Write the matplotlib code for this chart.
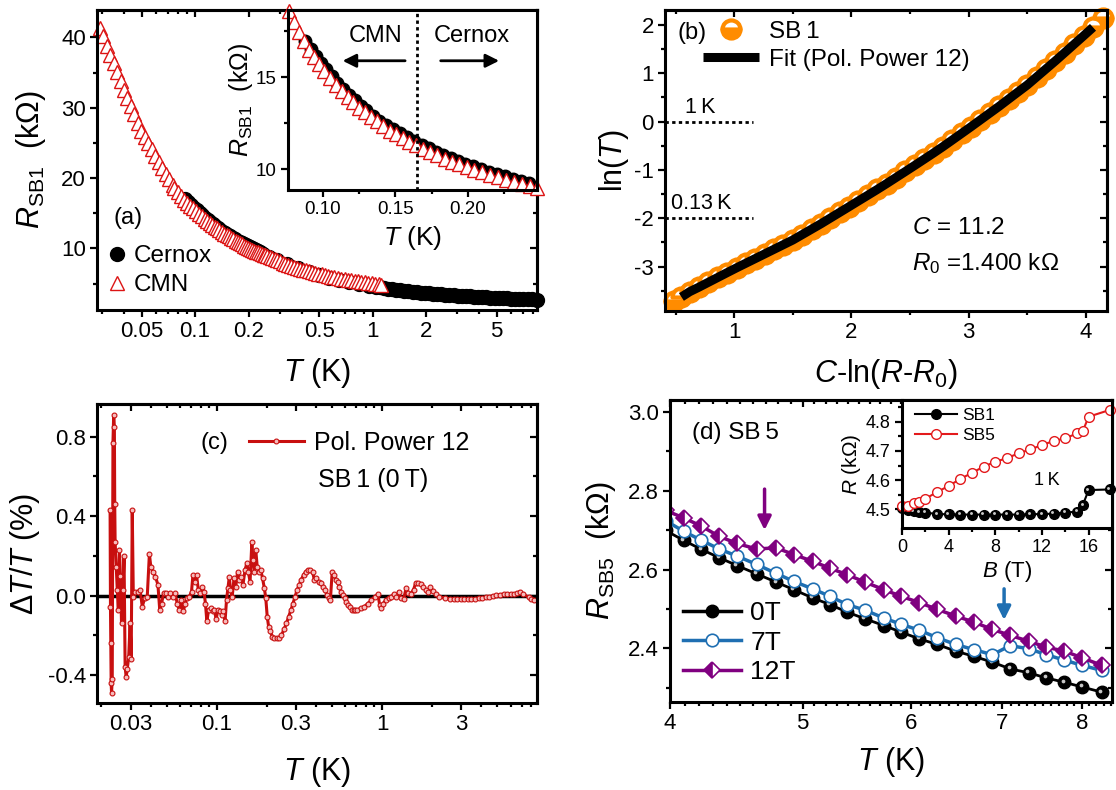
import numpy as np
import matplotlib
matplotlib.use("Agg")
import matplotlib.pyplot as plt
from matplotlib.ticker import NullFormatter
from matplotlib.transforms import ScaledTranslation

plt.rcParams['font.family'] = ['Liberation Sans', 'DejaVu Sans']
plt.rcParams['mathtext.fontset'] = 'custom'
plt.rcParams['mathtext.rm'] = 'Liberation Sans'
plt.rcParams['mathtext.it'] = 'Liberation Sans:italic'
plt.rcParams['mathtext.bf'] = 'Liberation Sans:bold'
plt.rcParams['axes.unicode_minus'] = False

# (a) R_SB1 against T, CMN and Cernox thermometers
cmn_T = [0.029, 0.0303, 0.0317, 0.0332, 0.0347, 0.0363, 0.038, 0.0398, 0.0416, 0.0435,
         0.0455, 0.0476, 0.0498, 0.0521, 0.0545, 0.057, 0.0597, 0.0624, 0.0653, 0.0683,
         0.0715, 0.0748,
         0.0765, 0.080, 0.0835, 0.087, 0.0905, 0.094, 0.0975, 0.101, 0.105, 0.109,
         0.113, 0.117, 0.121, 0.125, 0.129, 0.133, 0.137, 0.1415, 0.146, 0.1505,
         0.155, 0.1595, 0.164, 0.169, 0.174, 0.179, 0.184, 0.189, 0.194, 0.199,
         0.2045, 0.21, 0.2155, 0.221, 0.2265, 0.232, 0.2375, 0.243, 0.2476,
         0.255, 0.263, 0.272, 0.281, 0.291, 0.301, 0.312, 0.323, 0.335, 0.348,
         0.361, 0.375, 0.39, 0.405, 0.421, 0.438, 0.456, 0.475, 0.495, 0.516,
         0.538, 0.561, 0.585, 0.61, 0.637, 0.665, 0.695, 0.726, 0.758, 0.792,
         0.828, 0.866, 0.906, 0.948, 0.992, 1.038, 1.086, 1.11]
cmn_R = [41.4, 40.14, 38.84, 37.52, 36.31, 35.09, 33.85, 32.6, 31.43, 30.26,
         29.08, 27.89, 26.71, 25.81, 24.94, 24.07, 23.17, 22.32, 21.44, 20.63,
         19.85, 19.09,
         18.6, 18.0, 17.45, 16.95, 16.5, 16.1, 15.7, 15.35, 14.95, 14.6,
         14.25, 13.95, 13.65, 13.35, 13.1, 12.85, 12.6, 12.35, 12.1, 11.9,
         11.7, 11.5, 11.3, 11.1, 10.92, 10.75, 10.58, 10.42, 10.27, 10.12,
         9.97, 9.83, 9.69, 9.56, 9.43, 9.31, 9.2, 9.09, 9.0,
         8.9, 8.75, 8.6, 8.45, 8.3, 8.15, 8.0, 7.85, 7.7, 7.55,
         7.4, 7.27, 7.13, 7.0, 6.88, 6.76, 6.64, 6.52, 6.41, 6.3,
         6.2, 6.1, 6.0, 5.9, 5.81, 5.72, 5.63, 5.55, 5.47, 5.39,
         5.31, 5.23, 5.16, 5.09, 5.02, 4.96, 4.9, 4.87]
cernox_T = [0.088, 0.0915, 0.095, 0.0985, 0.102, 0.106, 0.110, 0.114, 0.118, 0.122,
            0.126, 0.130, 0.1345, 0.139, 0.1435, 0.148, 0.153, 0.158, 0.163, 0.168,
            0.173, 0.178, 0.183, 0.188, 0.193, 0.198, 0.2035, 0.209, 0.2145, 0.22,
            0.2255, 0.231, 0.2365, 0.242,
            0.26, 0.29, 0.33, 0.38, 0.44, 0.5, 0.57, 0.65, 0.74, 0.84, 0.95, 1.05,
            1.1, 1.16, 1.22, 1.29, 1.36, 1.43, 1.51, 1.59, 1.68, 1.77,
            1.87, 1.97, 2.08, 2.19, 2.31, 2.44, 2.57, 2.71, 2.86, 3.02,
            3.18, 3.36, 3.54, 3.73, 3.94, 4.15, 4.38, 4.62, 4.87, 5.14,
            5.42, 5.72, 6.03, 6.36, 6.71, 7.08, 7.47, 7.88, 8.4]
cernox_R = [17.0, 16.55, 16.15, 15.8, 15.45, 15.05, 14.7, 14.35, 14.05, 13.75,
            13.45, 13.2, 12.92, 12.65, 12.4, 12.17, 11.95, 11.73, 11.52, 11.32,
            11.13, 10.95, 10.78, 10.62, 10.46, 10.31, 10.15, 10.01, 9.87, 9.74,
            9.61, 9.49, 9.38, 9.27,
            8.8, 8.35, 7.8, 7.2, 6.65, 6.25, 5.85, 5.5, 5.2, 4.95, 4.72, 4.55,
            4.45, 4.36, 4.28, 4.2, 4.12, 4.05, 3.98, 3.91, 3.85, 3.79,
            3.73, 3.67, 3.62, 3.57, 3.52, 3.47, 3.42, 3.38, 3.34, 3.3,
            3.26, 3.22, 3.18, 3.15, 3.11, 3.08, 3.05, 3.02, 2.99, 2.96,
            2.93, 2.9, 2.87, 2.85, 2.82, 2.8, 2.78, 2.76, 2.74]
switch_T = 0.165

# (b) ln(T) against C-ln(R-R0)
b_x = [0.49, 0.55, 0.62, 0.7, 0.78, 0.86, 0.94, 1.02, 1.1, 1.18,
       1.26, 1.34, 1.42, 1.5, 1.58, 1.66, 1.74, 1.82, 1.9, 1.98,
       2.06, 2.14, 2.22, 2.3, 2.38, 2.46, 2.54, 2.62, 2.7, 2.78,
       2.86, 2.94, 3.02, 3.1, 3.18, 3.26, 3.34, 3.42, 3.5, 3.58,
       3.66, 3.74, 3.82, 3.9, 3.98, 4.06, 4.145]
b_y = [-3.72, -3.63, -3.52, -3.425, -3.325, -3.225, -3.125, -3.026, -2.93, -2.834,
       -2.738, -2.642, -2.546, -2.45, -2.338, -2.226, -2.114, -1.996, -1.878, -1.76,
       -1.641, -1.523, -1.404, -1.282, -1.157, -1.032, -0.906, -0.778, -0.65, -0.518,
       -0.381, -0.243, -0.105, 0.036, 0.177, 0.318, 0.466, 0.613, 0.76, 0.926,
       1.093, 1.259, 1.431, 1.604, 1.777, 1.952, 2.14]
ref_lnT = [0, -2]
ref_names = ['1\u2009K', '0.13\u2009K']
ref_end = 1.16

# (c) deviation of the fit
c_T = [0.02257, 0.02269, 0.0228, 0.02291, 0.02303, 0.02326, 0.02349, 0.02373, 0.02396, 0.02408,
       0.02421, 0.02457, 0.02494, 0.02532, 0.0257, 0.02608, 0.02647, 0.02701, 0.02742, 0.02783,
       0.02825, 0.02867, 0.02925, 0.02984, 0.03029, 0.03074, 0.0312, 0.03199, 0.03312, 0.03429,
       0.03534, 0.03659, 0.03789, 0.03904, 0.03982, 0.04103, 0.04248, 0.04398, 0.04509, 0.04623,
       0.04763, 0.04932, 0.05056, 0.05236, 0.05395, 0.05585, 0.05755, 0.05929, 0.06078, 0.06263,
       0.06421, 0.06583, 0.06816, 0.07023, 0.07165, 0.07345, 0.0753, 0.0772, 0.07914, 0.08155,
       0.0836, 0.08528, 0.087, 0.08919, 0.0919, 0.09467, 0.09658, 0.09901, 0.1015, 0.1041,
       0.1067, 0.1094, 0.1121, 0.1144, 0.1167, 0.119, 0.1208, 0.1239, 0.127, 0.1302,
       0.1335, 0.1368, 0.1403, 0.1438, 0.1482, 0.1519, 0.155, 0.1589, 0.1629, 0.1653,
       0.1687, 0.172, 0.1755, 0.1799, 0.1845, 0.1891, 0.1939, 0.1978, 0.2018, 0.2058,
       0.211, 0.2163, 0.2228, 0.2308, 0.239, 0.2462, 0.255, 0.2639, 0.272, 0.2816,
       0.2887, 0.2974, 0.3064, 0.3157, 0.3237, 0.3352, 0.3454, 0.3558, 0.3666, 0.3796,
       0.3891, 0.4009, 0.4131, 0.4257, 0.4385, 0.4519, 0.4633, 0.475, 0.4869, 0.4992,
       0.5117, 0.5246, 0.5378, 0.5514, 0.5653, 0.5796, 0.5942, 0.6091, 0.6245, 0.6402,
       0.6563, 0.6729, 0.6898, 0.7072, 0.7432, 0.7813, 0.821, 0.863, 0.907, 0.944,
       0.968, 0.992, 1.017, 1.053, 1.096, 1.14, 1.181, 1.222, 1.26, 1.298,
       1.351, 1.399, 1.441, 1.492, 1.553, 1.6, 1.649, 1.716, 1.776, 1.839,
       1.895, 1.962, 2.032, 2.114, 2.222, 2.394, 2.579, 2.712, 2.85, 2.996,
       3.148, 3.309, 3.478, 3.655, 3.842, 4.037, 4.244, 4.461, 4.688, 4.927,
       5.178, 5.443, 5.721, 6.013, 6.32, 6.543, 6.809, 7.155, 7.714, 8.024, 8.31]
c_dev = [0.43, -0.055, -0.24, -0.44, -0.49, -0.42, 0.77, 0.91, 0.85, 0.46,
         0.27, 0.146, 0.03, -0.07, 0.23, 0.10, -0.14, 0.03, 0.20, -0.36,
         -0.41, -0.37, -0.31, -0.14, -0.32, 0.43, -0.005, 0.02, 0.02, 0.03,
         -0.055, -0.013, -0.005, 0.21, 0.146, 0.12, 0.096, 0.054, -0.072, -0.04,
         0.012, 0.015, -0.005, 0.015, -0.005, 0.012, -0.04, -0.072, -0.022, -0.08,
         -0.04, -0.013, -0.005, 0.02, 0.104, 0.07, 0.104, 0.03, 0.012, 0.045,
         0.02, -0.04, -0.13, -0.07, -0.064, -0.08, -0.07, -0.12, -0.07, -0.08,
         -0.097, -0.08, -0.13, -0.022, 0.037, 0.096, 0.03, -0.005, 0.087, 0.045,
         0.12, 0.079, 0.096, 0.054, 0.13, 0.163, 0.12, 0.07, 0.27, 0.18,
         0.12, 0.23, 0.146, 0.12, 0.13, 0.087, 0.037, -0.013, -0.106, -0.156,
         -0.18, -0.206, -0.215, -0.215, -0.215, -0.2, -0.17, -0.14, -0.106, -0.07,
         -0.04, -0.005, 0.03, 0.054, 0.08, 0.104, 0.12, 0.13, 0.13, 0.12,
         0.08, 0.087, 0.07, 0.062, 0.045, 0.03, 0.003, -0.013, -0.022, 0.12,
         0.104, 0.08, 0.07, 0.045, 0.02, 0.003, -0.013, -0.03, -0.047, -0.055,
         -0.072, -0.075, -0.072, -0.072, -0.064, -0.055, -0.04, -0.022, -0.005, 0.008,
         -0.047, -0.064, -0.04, -0.022, -0.013, -0.005, 0.008, -0.005, 0.02, -0.013,
         -0.018, 0.037, 0.012, 0.008, 0.03, 0.065, 0.065, 0.059, 0.045, 0.03,
         0.02, 0.042, 0.025, 0.008, -0.005, -0.013, -0.017, -0.017, -0.017, -0.017,
         -0.017, -0.017, -0.017, -0.015, -0.013, -0.01, -0.008, -0.005, -0.002, 0.002,
         0.005, 0.007, 0.008, 0.008, 0.008, 0.012, 0.02, 0.008, -0.008, -0.015, -0.022]

# (d) R_SB5 against T in fields of 0, 7 and 12 T
d_T = [3.97, 4.092, 4.217, 4.345, 4.478, 4.627, 4.783, 4.926, 5.085, 5.237, 5.39, 5.554, 5.733,
       5.904, 6.087, 6.272, 6.471, 6.668, 6.883, 7.093, 7.317, 7.539, 7.77, 8.006, 8.274]
d_R0 = [2.699, 2.674, 2.651, 2.630, 2.610, 2.589, 2.568, 2.549, 2.528, 2.511, 2.492, 2.475, 2.458,
        2.441, 2.424, 2.410, 2.393, 2.380, 2.365, 2.348, 2.338, 2.325, 2.314, 2.302, 2.289]
d_R7 = [2.724, 2.697, 2.674, 2.652, 2.634, 2.613, 2.590, 2.570, 2.551, 2.532, 2.511, 2.497, 2.477,
        2.461, 2.446, 2.427, 2.410, 2.397, 2.384, 2.407, 2.399, 2.384, 2.370, 2.357, 2.344]
d_R12 = [2.750, 2.731, 2.710, 2.684, 2.666, 2.652, 2.655, 2.638, 2.621, 2.603, 2.587, 2.568, 2.549,
         2.532, 2.516, 2.499, 2.482, 2.467, 2.448, 2.433, 2.418, 2.403, 2.393, 2.376, 2.357]
arrow_T = [4.69, 7.02]
arrow_top = [2.811, 2.558]
arrow_tip = [2.693, 2.465]

# (d) inset: R against B at 1 K
ins_B = [0, 0.5, 1, 1.5, 2, 3, 4, 5, 6, 7, 8, 9, 10, 11, 12, 13, 14, 15, 15.5, 16, 17.8]
ins_SB1 = [4.503, 4.497, 4.494, 4.490, 4.489, 4.484, 4.483, 4.482, 4.482, 4.482, 4.482,
           4.482, 4.482, 4.483, 4.484, 4.485, 4.489, 4.492, 4.515, 4.566, 4.568]
ins_SB5 = [4.511, 4.513, 4.520, 4.526, 4.536, 4.559, 4.580, 4.604, 4.625, 4.646, 4.663,
           4.675, 4.692, 4.705, 4.720, 4.734, 4.743, 4.760, 4.768, 4.817, 4.840]

red = '#dc1414'
orange = '#ff8c00'
dred = '#c80f0f'
blue = '#1f6fb2'
purple = '#800080'

fig = plt.figure(figsize=(11.16, 7.9), dpi=100)


def minors(lo, hi, majors):
    out = []
    for d in range(-2, 1):
        for k in range(2, 10):
            v = k * 10.0 ** d
            if lo <= v <= hi and not np.any(np.isclose(v, majors)):
                out.append(v)
    return out


def frame(ax, xt, xl, xm, yt, yl, ym, xlim, ylim, size=16, box=True):
    for s in ax.spines.values():
        s.set_linewidth(2.2)
    ax.set_xticks(xt, xl)
    ax.set_xticks(xm, minor=True)
    ax.set_yticks(yt, yl)
    ax.set_yticks(ym, minor=True)
    ax.xaxis.set_minor_formatter(NullFormatter())
    ax.yaxis.set_minor_formatter(NullFormatter())
    ax.tick_params(which='both', direction='out', width=1.6, labelsize=size, pad=3)
    ax.tick_params(which='major', length=5)
    ax.tick_params(which='minor', length=3)
    if box:
        top = ax.secondary_xaxis('top')
        top.set_xticks(xt, [''] * len(xt))
        top.set_xticks(xm, minor=True)
        top.xaxis.set_minor_formatter(NullFormatter())
        top.tick_params(which='both', direction='in', width=1.6)
        top.tick_params(which='major', length=5)
        top.tick_params(which='minor', length=3)
        top.spines['top'].set_linewidth(2.2)
        right = ax.secondary_yaxis('right')
        right.set_yticks(yt, [''] * len(yt))
        right.set_yticks(ym, minor=True)
        right.yaxis.set_minor_formatter(NullFormatter())
        right.tick_params(which='both', direction='in', width=1.6)
        right.tick_params(which='major', length=5)
        right.tick_params(which='minor', length=3)
        right.spines['right'].set_linewidth(2.2)
    ax.set_xlim(*xlim)
    ax.set_ylim(*ylim)


def spheres(ax, x, y, ms, **kw):
    ax.plot(x, y, 'o', color='k', ms=ms, ls='none', **kw)
    off = ScaledTranslation(-ms * 0.13 / 72, ms * 0.13 / 72, fig.dpi_scale_trans)
    ax.plot(x, y, 'o', color='#c8c8c8', ms=ms * 0.3, mew=0, ls='none',
            transform=ax.transData + off, **kw)


# ---- (a)
ax = fig.add_axes([0.0869, 0.6076, 0.3943, 0.3797])
ax.set_xscale('log')
h_cx, = ax.plot(cernox_T, cernox_R, 'o', color='k', ms=10, ls='none', clip_on=False)
h_cmn, = ax.plot(cmn_T, cmn_R, '^', mfc='white', mec=red, mew=1, ms=10, ls='none', clip_on=False)
xt = [0.05, 0.1, 0.2, 0.5, 1, 2, 5]
frame(ax, xt, ['0.05', '0.1', '0.2', '0.5', '1', '2', '5'], minors(0.028, 8.45, xt),
      [10, 20, 30, 40], ['10', '20', '30', '40'], [5, 15, 25, 35], (0.028, 8.45), (1.25, 43.9))
ax.set_xlabel('$T$ (K)', fontsize=22, labelpad=10)
ax.set_ylabel(r'$R_{\mathrm{SB1}}$  (kΩ)', fontsize=22, labelpad=9)
ax.text(0.07, 0.307, '(a)', transform=ax.transAxes, fontsize=17, ha='center', va='center')
ax.legend([h_cx, h_cmn], ['Cernox', 'CMN'], loc='lower left', bbox_to_anchor=(0.03, 0.045),
          frameon=False, fontsize=17.5, handlelength=0.6, handletextpad=0.35, labelspacing=0.3,
          borderpad=0, borderaxespad=0, markerscale=1.0)

# ---- (a) inset
ai = fig.add_axes([0.2581, 0.7595, 0.2231, 0.2278])
cx_T = np.array(cernox_T)
cm_T = np.array(cmn_T)
sel_cx = (cx_T >= 0.076) & (cx_T <= 0.2476)
sel_cm = (cm_T >= 0.076) & (cm_T <= 0.2476)
ai.plot(cx_T[sel_cx], np.array(cernox_R)[sel_cx], 'o', color='k', ms=9, ls='none', clip_on=False)
ai.plot(cm_T[sel_cm], np.array(cmn_R)[sel_cm], '^', mfc='white', mec=red, mew=1, ms=10,
        ls='none', clip_on=False)
ai.axvline(switch_T, color='k', ls=(0, (1.2, 1.2)), lw=2)
ai.text(0.136, 17.25, 'CMN', fontsize=17, ha='center', va='center')
ai.text(0.2026, 17.25, 'Cernox', fontsize=17, ha='center', va='center')
ai.annotate('', xy=(0.1117, 15.9), xytext=(0.1586, 15.9),
            arrowprops=dict(arrowstyle='-|>', color='k', lw=2, mutation_scale=20))
ai.annotate('', xy=(0.2234, 15.9), xytext=(0.1793, 15.9),
            arrowprops=dict(arrowstyle='-|>', color='k', lw=2, mutation_scale=20))
frame(ai, [0.10, 0.15, 0.20], ['0.10', '0.15', '0.20'], [0.125, 0.175, 0.225],
      [10, 15], ['10', '15'], [12.5, 17.5], (0.076, 0.2476), (8.87, 18.66), size=13.5, box=False)
ai.set_xlabel('$T$ (K)', fontsize=19, labelpad=4)
ai.set_ylabel(r'$R_{\mathrm{SB1}}$  (kΩ)', fontsize=18, labelpad=1)

# ---- (b)
bx = fig.add_axes([0.5959, 0.6063, 0.3961, 0.3810])
h_sb, = bx.plot(b_x, b_y, 'o', ms=13, mew=3, fillstyle='bottom', mfc=orange,
                mfcalt='white', mec=orange, ls='none', clip_on=False)
h_fit, = bx.plot(b_x[1:-1], b_y[1:-1], '-', color='k', lw=6.5, solid_capstyle='butt')
bx.hlines(ref_lnT, 0.41, ref_end, colors='k', linestyles=(0, (1.2, 1.2)), lw=2)
for yv, name, xs in zip(ref_lnT, ref_names, [0.58, 0.46]):
    bx.text(xs, yv + 0.3, name, fontsize=15.5, ha='left', va='center')
frame(bx, [1, 2, 3, 4], ['1', '2', '3', '4'], [0.5, 1.5, 2.5, 3.5],
      [-3, -2, -1, 0, 1, 2], ['-3', '-2', '-1', '0', '1', '2'], [-3.5, -2.5, -1.5, -0.5, 0.5, 1.5],
      (0.41, 4.18), (-3.92, 2.31))
bx.set_xlabel(r'$C$-ln($R$-$R_{\mathrm{0}}$)', fontsize=22, labelpad=10)
bx.set_ylabel('ln($T$)', fontsize=22, labelpad=2)
bx.text(0.061, 0.924, '(b)', transform=bx.transAxes, fontsize=17, ha='center', va='center')
bx.legend([h_sb, h_fit], ['SB\u20091', 'Fit (Pol. Power 12)'], loc='upper left',
          bbox_to_anchor=(0.086, 0.965), frameon=False, fontsize=17.5, handlelength=2.3,
          handletextpad=0.4, labelspacing=0.25, borderpad=0, borderaxespad=0)
bx.text(2.52, -2.2, '$C$ = 11.2', fontsize=17.5, ha='left', va='center')
bx.text(2.52, -2.93, r'$R_{\mathrm{0}}$ =1.400 kΩ', fontsize=17.5, ha='left', va='center')

# ---- (c)
cx = fig.add_axes([0.0869, 0.1101, 0.3943, 0.3785])
cx.set_xscale('log')
cx.axhline(0, color='k', lw=2.5, zorder=1.5)
h_c, = cx.plot(c_T, c_dev, '-o', color=dred, lw=2.2, ms=3.5, mfc='#f6bcbc', mec=dred, mew=0.8,
               zorder=2)
xt = [0.03, 0.1, 0.3, 1, 3]
frame(cx, xt, ['0.03', '0.1', '0.3', '1', '3'], minors(0.0188, 8.68, xt),
      [-0.4, 0.0, 0.4, 0.8], ['-0.4', '0.0', '0.4', '0.8'], [-0.2, 0.2, 0.6],
      (0.0188, 8.68), (-0.541, 0.965))
cx.set_xlabel('$T$ (K)', fontsize=22, labelpad=14)
cx.set_ylabel('Δ$T$/$T$ (%)', fontsize=22, labelpad=4)
cx.text(0.266, 0.87, '(c)', transform=cx.transAxes, fontsize=17, ha='center', va='center')
cx.legend([h_c], ['Pol. Power 12'], loc='center left', bbox_to_anchor=(0.345, 0.87),
          frameon=False, fontsize=18, handlelength=2.2, handletextpad=0.4,
          borderpad=0, borderaxespad=0)
cx.text(0.502, 0.746, 'SB\u20091 (0\u2009T)', transform=cx.transAxes, fontsize=18,
        ha='left', va='center')

# ---- (d)
dx = fig.add_axes([0.6004, 0.1114, 0.3961, 0.3823])
dx.set_xscale('log')
dx.plot(d_T, d_R0, '-', color='k', lw=2)
spheres(dx, d_T, d_R0, 9)
h0, = dx.plot([], [], '-o', color='k', lw=2.5, ms=9)
h7, = dx.plot(d_T, d_R7, '-o', color=blue, lw=2.5, ms=9, mfc='white', mec=blue, mew=1.2)
h12, = dx.plot(d_T, d_R12, '-D', color=purple, lw=2.5, ms=8, fillstyle='left', mfc=purple,
               mfcalt='white', mec=purple, mew=1.2)
for t, y0, y1, col in zip(arrow_T, arrow_top, arrow_tip, [purple, blue]):
    dx.annotate('', xy=(t, y1), xytext=(t, y0),
                arrowprops=dict(arrowstyle='-|>', color=col, lw=2.5, mutation_scale=20))
dmin = [round(v, 1) for v in np.arange(4.1, 8.45, 0.1) if abs(v - round(v)) > 0.05]
frame(dx, [4, 5, 6, 7, 8], ['4', '5', '6', '7', '8'], dmin,
      [2.4, 2.6, 2.8, 3.0], ['2.4', '2.6', '2.8', '3.0'], [2.3, 2.5, 2.7, 2.9],
      (4.0, 8.42), (2.264, 3.03))
dx.set_xlabel('$T$ (K)', fontsize=22, labelpad=8)
dx.set_ylabel(r'$R_{\mathrm{SB5}}$  (kΩ)', fontsize=22, labelpad=7)
dx.text(0.05, 0.89, '(d) SB\u20095', transform=dx.transAxes, fontsize=17.5, ha='left', va='center')
dx.legend([h0, h7, h12], ['0T', '7T', '12T'], loc='lower left', bbox_to_anchor=(0.029, 0.06),
          frameon=False, fontsize=19, handlelength=2.2, handletextpad=0.35, labelspacing=0.2,
          borderpad=0, borderaxespad=0)

# ---- (d) inset
di = fig.add_axes([0.8082, 0.3316, 0.1882, 0.1620])
di.plot(ins_B, ins_SB1, '-', color='k', lw=1.5, clip_on=False)
spheres(di, ins_B, ins_SB1, 7, clip_on=False)
g1, = di.plot([], [], '-o', color='k', lw=1.5, ms=7)
g5, = di.plot(ins_B, ins_SB5, '-o', color='#e31a1c', lw=1.5, ms=7, mfc='white',
              mec='#e31a1c', mew=1, clip_on=False)
frame(di, [0, 4, 8, 12, 16], ['0', '4', '8', '12', '16'], [2, 6, 10, 14],
      [4.5, 4.6, 4.7, 4.8], ['4.5', '4.6', '4.7', '4.8'], [4.55, 4.65, 4.75, 4.85],
      (0, 18), (4.436, 4.874), size=13, box=False)
di.set_xlabel('$B$ (T)', fontsize=16, labelpad=2)
di.set_ylabel('$R$ (kΩ)', fontsize=15, labelpad=2)
di.text(12.45, 4.60, '1\u2009K', fontsize=13, ha='center', va='center')
di.legend([g1, g5], ['SB1', 'SB5'], loc='upper left', bbox_to_anchor=(0.062, 0.94),
          frameon=False, fontsize=12.5, handlelength=2.4, handletextpad=0.3,
          labelspacing=0.3, borderpad=0, borderaxespad=0)

fig.savefig('out.png', dpi=100)
